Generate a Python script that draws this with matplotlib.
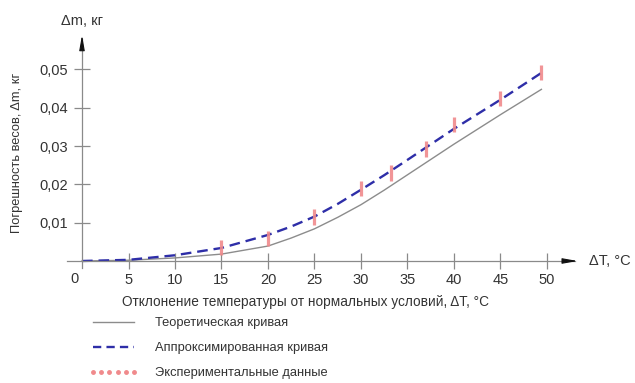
import matplotlib
matplotlib.use("Agg")
import matplotlib.pyplot as plt
from matplotlib.lines import Line2D
from matplotlib.ticker import FuncFormatter

plt.rcParams['font.family'] = ['Liberation Sans', 'DejaVu Sans']

# data
dT_curve = [0, 5, 10, 15, 20, 22.5, 25, 27.5, 30, 32.5, 35, 40, 45, 49.4]
dm_theory = [0, 0.0002, 0.0008, 0.0018, 0.0039, 0.0060, 0.0084, 0.0114, 0.0147, 0.0185,
             0.0225, 0.0305, 0.0382, 0.0448]
dm_approx = [0, 0.0003, 0.0015, 0.0034, 0.0068, 0.0090, 0.0116, 0.0149, 0.0186, 0.0224,
             0.0264, 0.0345, 0.0421, 0.0491]

dT_exp = [15, 20, 25, 30, 33.2, 37, 40, 45, 49.4]
dm_exp = [0.0036, 0.0059, 0.0115, 0.0189, 0.0230, 0.0292, 0.0356, 0.0424, 0.0492]
dm_err = 0.002

xticks = [5, 10, 15, 20, 25, 30, 35, 40, 45, 50]
yticks = [0.01, 0.02, 0.03, 0.04, 0.05]

txt = '#333333'
axc = '#8a8a8a'
pink = '#f08a8c'
blue = '#2e2ea8'

fig = plt.figure(figsize=(6.35, 3.83), dpi=100)
ax = fig.add_axes([60 / 635, 1 - 275 / 383, 540 / 635, 255 / 383])
ax.set_xlim(-2.366, 55.7)
ax.set_ylim(-0.003655, 0.0629)

for s in ['top', 'right']:
    ax.spines[s].set_visible(False)
ax.spines['bottom'].set_position(('data', 0))
ax.spines['left'].set_position(('data', 0))
ax.spines['bottom'].set_bounds(-1.6, 53.0)
ax.spines['left'].set_bounds(-0.0018, 0.058)
for s in ['bottom', 'left']:
    ax.spines[s].set_color(axc)
    ax.spines[s].set_linewidth(0.9)

# arrow heads
ax.annotate('', xy=(53.6, 0), xytext=(52.0, 0),
            arrowprops=dict(arrowstyle='-|>,head_length=0.9,head_width=0.16',
                            color='#111111', lw=0.8))
ax.annotate('', xy=(0, 0.0597), xytext=(0, 0.0565),
            arrowprops=dict(arrowstyle='-|>,head_length=0.9,head_width=0.16',
                            color='#111111', lw=0.8))

ax.set_xticks(xticks)
ax.set_yticks(yticks)
ax.yaxis.set_major_formatter(FuncFormatter(lambda v, p: f'{v:.2f}'.replace('.', ',')))
ax.tick_params(axis='x', direction='inout', length=12, width=0.9, color=axc,
               labelsize=10.5, labelcolor=txt, pad=3)
ax.tick_params(axis='y', direction='inout', length=12, width=0.9, color=axc,
               labelsize=10.5, labelcolor=txt, pad=4)
ax.text(-0.4, -0.0047, '0', ha='right', va='center', fontsize=10.5, color=txt)

ax.plot(dT_curve, dm_theory, color='#8c8c8c', lw=1.0)
ax.plot(dT_curve, dm_approx, color=blue, lw=1.7, dashes=(4.5, 2.5))
ax.errorbar(dT_exp, dm_exp, yerr=dm_err, fmt='none', ecolor=pink, elinewidth=2.3,
            capsize=0, alpha=0.9, zorder=3)

# axis captions
ax.text(0, 0.0627, 'Δm, кг', ha='center', va='center', fontsize=10.5, color=txt)
ax.text(54.5, 0, 'ΔT, °C', ha='left', va='center', fontsize=10.5, color=txt)
fig.text(306 / 635, 1 - 302 / 383, 'Отклонение температуры от нормальных условий, ΔT, °C',
         ha='center', va='center', fontsize=9.8, color=txt)
fig.text(17 / 635, 1 - 153 / 383, 'Погрешность весов, Δm, кг', rotation=90,
         ha='center', va='center', fontsize=9.3, color=txt)

handles = [
    Line2D([], [], color='#8c8c8c', lw=1.0),
    Line2D([], [], color=blue, lw=1.7, dashes=(3.5, 2.2)),
    Line2D([], [], color=pink, ls='none', marker='o', ms=2.5),
]
labels = ['Теоретическая кривая', 'Аппроксимированная кривая', 'Экспериментальные данные']
leg = fig.legend(handles, labels, loc='upper left', bbox_to_anchor=(89 / 635, 1 - 317 / 383),
                 frameon=False, fontsize=9.3, handlelength=3.8, handletextpad=1.3,
                 labelspacing=1.02, numpoints=6, borderaxespad=0, borderpad=0)
for t in leg.get_texts():
    t.set_color(txt)

fig.savefig('out.png', dpi=100)
